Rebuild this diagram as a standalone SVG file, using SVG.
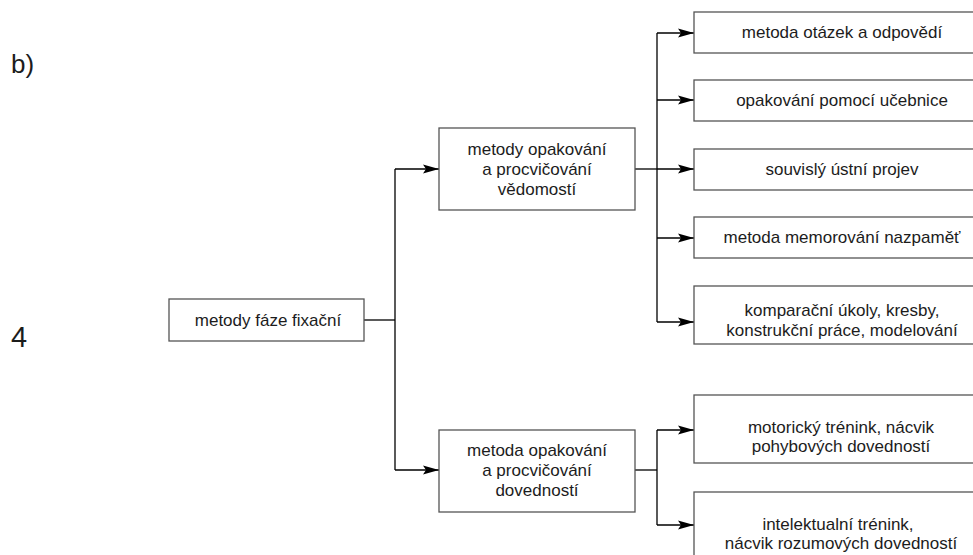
<svg xmlns="http://www.w3.org/2000/svg" width="973" height="555" viewBox="0 0 973 555">
  <defs>
    <marker id="arr" markerUnits="userSpaceOnUse" markerWidth="18" markerHeight="11" refX="16" refY="5" orient="auto">
      <path d="M0,0.5 L16,5 L0,9.5 L3,5 Z" fill="#000"/>
    </marker>
    <style>
      .box { fill: #fff; stroke: #555; stroke-width: 1.3; }
      .t { font-family: "Liberation Sans", Arial, sans-serif; font-size: 17px; fill: #1c1c1c; text-anchor: middle; }
      .lbl { font-family: "Liberation Sans", Arial, sans-serif; fill: #1c1c1c; }
      .c { fill: none; stroke: #000; stroke-width: 1.3; }
    </style>
  </defs>
  <rect width="973" height="555" fill="#fff"/>

  <text class="lbl" x="11" y="73" font-size="26">b)</text>
  <text class="lbl" x="11" y="347" font-size="29">4</text>

  <g id="connectors">
    <path class="c" d="M364,320 H395"/>
    <path class="c" d="M395,169 V470"/>
    <path class="c" d="M395,169 H439" marker-end="url(#arr)"/>
    <path class="c" d="M395,470 H439" marker-end="url(#arr)"/>
    <path class="c" d="M635,169 H657"/>
    <path class="c" d="M657,33 V322"/>
    <path class="c" d="M657,33 H694" marker-end="url(#arr)"/>
    <path class="c" d="M657,100 H694" marker-end="url(#arr)"/>
    <path class="c" d="M657,169 H694" marker-end="url(#arr)"/>
    <path class="c" d="M657,238 H694" marker-end="url(#arr)"/>
    <path class="c" d="M657,322 H694" marker-end="url(#arr)"/>
    <path class="c" d="M635,470 H657"/>
    <path class="c" d="M657,430 V525"/>
    <path class="c" d="M657,430 H694" marker-end="url(#arr)"/>
    <path class="c" d="M657,525 H694" marker-end="url(#arr)"/>
  </g>

  <g id="root">
    <rect class="box" x="169" y="299" width="195" height="42"/>
    <text class="t" x="268" y="326">metody fáze fixační</text>
  </g>

  <g id="vedomosti">
    <rect class="box" x="439" y="128" width="196" height="82"/>
    <text class="t" x="537" y="155">metody opakování</text>
    <text class="t" x="537" y="175">a procvičování</text>
    <text class="t" x="537" y="195">vědomostí</text>
  </g>

  <g id="dovednosti">
    <rect class="box" x="439" y="430" width="196" height="82"/>
    <text class="t" x="537" y="456">metoda opakování</text>
    <text class="t" x="537" y="476">a procvičování</text>
    <text class="t" x="537" y="496">dovedností</text>
  </g>

  <g id="otazky">
    <rect class="box" x="694" y="12" width="290" height="41"/>
    <text class="t" x="842" y="38">metoda otázek a odpovědí</text>
  </g>

  <g id="ucebnice">
    <rect class="box" x="694" y="80" width="290" height="41"/>
    <text class="t" x="842" y="106">opakování pomocí učebnice</text>
  </g>

  <g id="projev">
    <rect class="box" x="694" y="149" width="290" height="41"/>
    <text class="t" x="842" y="175">souvislý ústní projev</text>
  </g>

  <g id="memorovani">
    <rect class="box" x="694" y="217" width="290" height="41"/>
    <text class="t" x="842" y="243">metoda memorování nazpaměť</text>
  </g>

  <g id="komparace">
    <rect class="box" x="694" y="286" width="290" height="58"/>
    <text class="t" x="842" y="316">komparační úkoly, kresby,</text>
    <text class="t" x="842" y="336">konstrukční práce, modelování</text>
  </g>

  <g id="motoricky">
    <rect class="box" x="694" y="395" width="290" height="68"/>
    <text class="t" x="841" y="433">motorický trénink, nácvik</text>
    <text class="t" x="841" y="452">pohybových dovedností</text>
  </g>

  <g id="intelektualni">
    <rect class="box" x="694" y="492" width="290" height="80"/>
    <text class="t" x="838" y="530">intelektualní trénink,</text>
    <text class="t" x="841" y="549">nácvik rozumových dovedností</text>
  </g>
</svg>
